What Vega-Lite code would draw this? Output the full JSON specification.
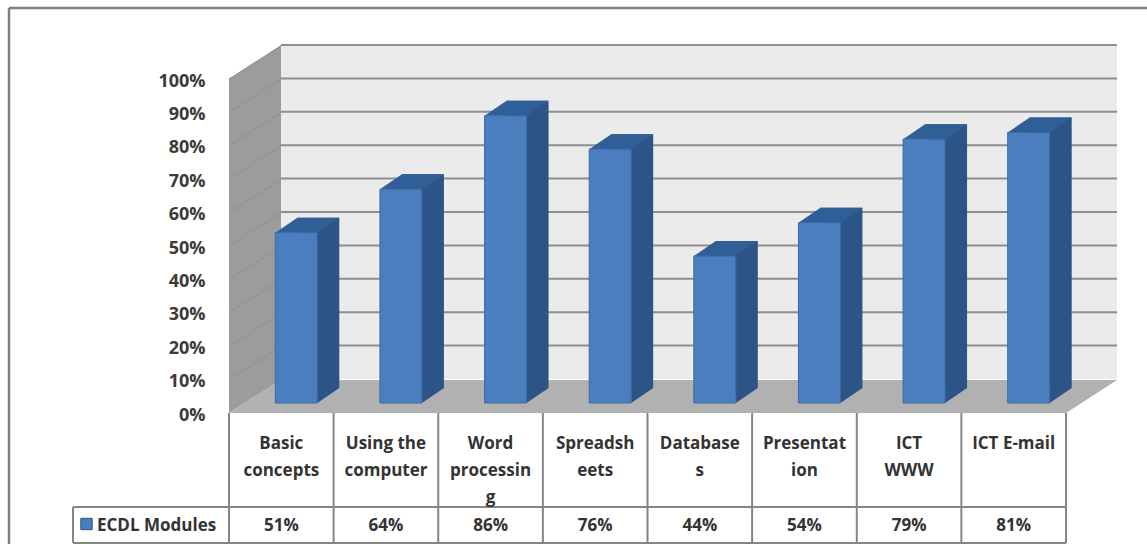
{
  "$schema": "https://vega.github.io/schema/vega-lite/v6.json",
  "autosize": "none",
  "width": 837,
  "height": 334,
  "padding": {"left": 229, "top": 79, "right": 81, "bottom": 131},
  "background": "#ffffff",
  "config": {
    "view": {"stroke": null},
    "text": {"font": "Open Sans"},
    "axisY": {
      "tickCount": 11, "labelOverlap": false, "format": ".0%", "title": null, "ticks": false, "domain": false, "grid": false,
      "labelPadding": 24, "labelOffset": 2, "labelFont": "Open Sans", "labelFontWeight": "bold", "labelFontSize": 18, "labelColor": "#3a3a3a"
    }
  },
  "datasets": {
    "modules": [
      {"module": "Basic concepts", "label": "Basic\nconcepts", "value": 0.51},
      {"module": "Using the computer", "label": "Using the\ncomputer", "value": 0.64},
      {"module": "Word processing", "label": "Word\nprocessin\ng", "value": 0.86},
      {"module": "Spreadsheets", "label": "Spreadsh\neets", "value": 0.76},
      {"module": "Databases", "label": "Database\ns", "value": 0.44},
      {"module": "Presentation", "label": "Presentat\nion", "value": 0.54},
      {"module": "ICT WWW", "label": "ICT\nWWW", "value": 0.79},
      {"module": "ICT E-mail", "label": "ICT E-mail", "value": 0.81}
    ],
    "ticks": [
      {"tick": 0.1}, {"tick": 0.2}, {"tick": 0.3}, {"tick": 0.4}, {"tick": 0.5},
      {"tick": 0.6}, {"tick": 0.7}, {"tick": 0.8}, {"tick": 0.9}, {"tick": 1}
    ],
    "origin": [{"tick": 0}],
    "series": [{"series": "ECDL Modules"}]
  },
  "resolve": {"scale": {"y": "independent"}},
  "layer": [
    {
      "layer": [
        {
          "description": "Back wall",
          "data": {"name": "origin"},
          "mark": {"type": "rect", "fill": "#ebebeb", "yOffset": -34, "y2Offset": -34},
          "encoding": {
            "x": {"value": 52},
            "x2": {"value": 888},
            "y": {"datum": 1, "type": "quantitative", "scale": {"domain": [0, 1]}, "axis": {"title": null}},
            "y2": {"datum": 0}
          }
        },
        {
          "description": "Left wall",
          "data": {"name": "origin"},
          "mark": {"type": "point", "filled": true, "opacity": 1, "fill": "#9c9c9c", "size": 4,
            "shape": "M0,0 L52,-33 L52,-368 L0,-334 Z"},
          "encoding": {"x": {"value": 0}, "y": {"field": "tick", "type": "quantitative"}}
        },
        {
          "description": "Floor",
          "data": {"name": "origin"},
          "mark": {"type": "point", "filled": true, "opacity": 1, "fill": "#b1b1b1", "size": 4,
            "shape": "M0,0 L52,-33 L888,-33 L837,0 Z"},
          "encoding": {"x": {"value": 0}, "y": {"field": "tick", "type": "quantitative"}}
        },
        {
          "description": "Gridlines on the back wall",
          "data": {"name": "ticks"},
          "mark": {"type": "rule", "stroke": "#8e8e8e", "strokeWidth": 2, "yOffset": -34},
          "encoding": {
            "x": {"value": 52},
            "x2": {"value": 888},
            "y": {"field": "tick", "type": "quantitative"}
          }
        },
        {
          "description": "Gridlines running across the left wall",
          "data": {"name": "ticks"},
          "mark": {"type": "point", "filled": false, "opacity": 1, "stroke": "#8f8f8f", "strokeWidth": 1, "size": 4,
            "shape": "M0,0 L52,-33"},
          "encoding": {"x": {"value": 0}, "y": {"field": "tick", "type": "quantitative"}}
        },
        {
          "description": "Right faces of the columns",
          "data": {"name": "modules"},
          "mark": {"type": "bar", "width": 42, "fill": "#2d5487", "xOffset": 37, "yOffset": -25, "y2Offset": -25},
          "encoding": {
            "x": {"field": "module", "type": "nominal", "sort": null, "axis": null, "scale": {"type": "band", "padding": 0}},
            "y": {"field": "value", "type": "quantitative"},
            "y2": {"datum": 0}
          }
        },
        {
          "description": "Lower corner of the right faces",
          "data": {"name": "modules"},
          "mark": {"type": "point", "filled": true, "opacity": 1, "fill": "#2d5487", "size": 4, "xOffset": 15, "yOffset": -10,
            "shape": "M21,0 L43,-15 L21,-15 Z"},
          "encoding": {
            "x": {"field": "module", "type": "nominal", "sort": null, "axis": null, "scale": {"type": "band", "padding": 0}},
            "y": {"datum": 0, "type": "quantitative"}
          }
        },
        {
          "description": "Top faces of the columns",
          "data": {"name": "modules"},
          "mark": {"type": "point", "filled": true, "opacity": 1, "fill": "#305e96", "size": 4, "xOffset": 15, "yOffset": -10,
            "shape": "M-21,0 L21,0 L43,-15 L1,-15 Z"},
          "encoding": {
            "x": {"field": "module", "type": "nominal", "sort": null, "axis": null, "scale": {"type": "band", "padding": 0}},
            "y": {"field": "value", "type": "quantitative"}
          }
        },
        {
          "description": "Front faces of the columns",
          "data": {"name": "modules"},
          "mark": {"type": "bar", "width": 42, "fill": "#4a7ebf", "stroke": "#3a6aa6", "strokeWidth": 1, "xOffset": 15, "yOffset": -10, "y2Offset": -10},
          "encoding": {
            "x": {"field": "module", "type": "nominal", "sort": null, "axis": null, "scale": {"type": "band", "padding": 0}},
            "y": {"field": "value", "type": "quantitative"},
            "y2": {"datum": 0}
          }
        },
        {
          "description": "Data table column lines",
          "data": {"name": "modules"},
          "mark": {"type": "rule", "stroke": "#858585", "strokeWidth": 2},
          "encoding": {
            "x": {"field": "module", "type": "nominal", "sort": null, "axis": null, "scale": {"type": "band", "padding": 0}, "bandPosition": 0},
            "y": {"value": 334},
            "y2": {"value": 464}
          }
        },
        {
          "description": "Data table right edge",
          "data": {"name": "origin"},
          "mark": {"type": "rule", "stroke": "#858585", "strokeWidth": 2},
          "encoding": {"x": {"value": 837}, "y": {"value": 334}, "y2": {"value": 464}}
        },
        {
          "description": "Data table row line",
          "data": {"name": "origin"},
          "mark": {"type": "rule", "stroke": "#858585", "strokeWidth": 2},
          "encoding": {"x": {"value": -156}, "x2": {"value": 837}, "y": {"value": 428}}
        },
        {
          "description": "Data table bottom line",
          "data": {"name": "origin"},
          "mark": {"type": "rule", "stroke": "#858585", "strokeWidth": 2},
          "encoding": {"x": {"value": -156}, "x2": {"value": 837}, "y": {"value": 464}}
        },
        {
          "description": "Series cell left edge",
          "data": {"name": "origin"},
          "mark": {"type": "rule", "stroke": "#858585", "strokeWidth": 2},
          "encoding": {"x": {"value": -156}, "y": {"value": 428}, "y2": {"value": 464}}
        },
        {
          "description": "Outer frame, top",
          "data": {"name": "origin"},
          "mark": {"type": "rule", "stroke": "#7f7f7f", "strokeWidth": 2.5},
          "encoding": {"x": {"value": -220}, "x2": {"value": 918}, "y": {"value": -71}}
        },
        {
          "description": "Outer frame, left",
          "data": {"name": "origin"},
          "mark": {"type": "rule", "stroke": "#7f7f7f", "strokeWidth": 2.5},
          "encoding": {"x": {"value": -220}, "y": {"value": -71}, "y2": {"value": 465}}
        }
      ]
    },
    {
      "layer": [
        {
          "description": "Category names in the table header",
          "data": {"name": "modules"},
          "mark": {"type": "text", "lineBreak": "\n", "lineHeight": 27, "fontSize": 17, "fontWeight": "bold", "baseline": "top", "color": "#333333"},
          "encoding": {
            "x": {"field": "module", "type": "nominal", "sort": null, "axis": null, "scale": {"type": "band", "padding": 0}},
            "y": {"datum": "name", "type": "nominal", "axis": null,
              "scale": {"type": "point", "domain": ["name", "value"], "range": [357, 439], "padding": 0}},
            "text": {"field": "label"}
          }
        },
        {
          "description": "Values in the table row",
          "data": {"name": "modules"},
          "mark": {"type": "text", "fontSize": 17, "fontWeight": "bold", "baseline": "top", "color": "#333333"},
          "encoding": {
            "x": {"field": "module", "type": "nominal", "sort": null, "axis": null, "scale": {"type": "band", "padding": 0}},
            "y": {"datum": "value", "type": "nominal", "axis": null},
            "text": {"field": "value", "type": "quantitative", "format": ".0%"}
          }
        },
        {
          "description": "Series key swatch",
          "data": {"name": "series"},
          "mark": {"type": "point", "shape": "square", "filled": true, "opacity": 1, "fill": "#4a7ebf", "stroke": "#2d5487", "strokeWidth": 1, "size": 130, "yOffset": 6},
          "encoding": {"x": {"value": -142.5}, "y": {"datum": "value", "type": "nominal", "axis": null}}
        },
        {
          "description": "Series name",
          "data": {"name": "series"},
          "mark": {"type": "text", "fontSize": 17, "fontWeight": "bold", "baseline": "top", "align": "left", "color": "#333333"},
          "encoding": {
            "x": {"value": -132},
            "y": {"datum": "value", "type": "nominal", "axis": null},
            "text": {"field": "series"}
          }
        }
      ]
    }
  ]
}
